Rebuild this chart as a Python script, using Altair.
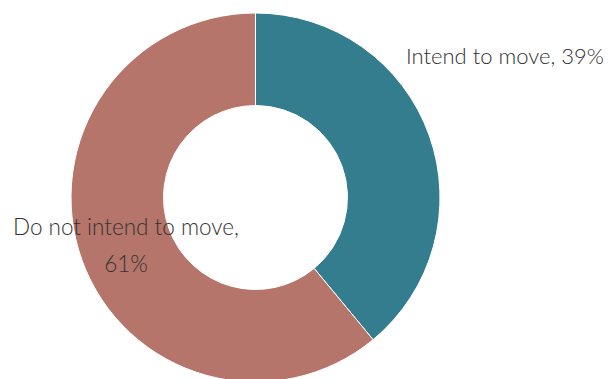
import altair as alt
import pandas as pd

categories = ["Intend to move", "Do not intend to move"]
values = [39, 61]
colors = ["#337D8F", "#B5756A"]
label_lines = [["Intend to move, 39%"], ["Do not intend to move,", "61%"]]

df = pd.DataFrame({"category": categories, "value": values, "order": [0, 1]})

arc = alt.Chart(df).mark_arc(
    outerRadius=184.5, innerRadius=92, stroke="white", strokeWidth=1
).encode(
    theta=alt.Theta("value:Q", stack=True),
    color=alt.Color("category:N", scale=alt.Scale(domain=categories, range=colors), legend=None),
    order=alt.Order("order:Q"),
    x=alt.value(247.5),
    y=alt.value(189.5),
)

lab1 = alt.Chart(pd.DataFrame({"t": [label_lines[0]]})).mark_text(
    align="left", baseline="middle", fontSize=22, font="Lato", fontWeight=300, color="#333333"
).encode(text="t", x=alt.value(398), y=alt.value(49))

lab2 = alt.Chart(pd.DataFrame({"t": [label_lines[1]]})).mark_text(
    align="center", baseline="middle", fontSize=22.5, font="Lato", fontWeight=300,
    color="#333333", lineHeight=37
).encode(text="t", x=alt.value(118), y=alt.value(220))

chart = alt.layer(arc, lab1, lab2).properties(
    width=599, height=371, padding=0, autosize="none"
).configure_view(stroke=None)

chart.save("out.html", embed_options={"renderer": "svg", "actions": False})
